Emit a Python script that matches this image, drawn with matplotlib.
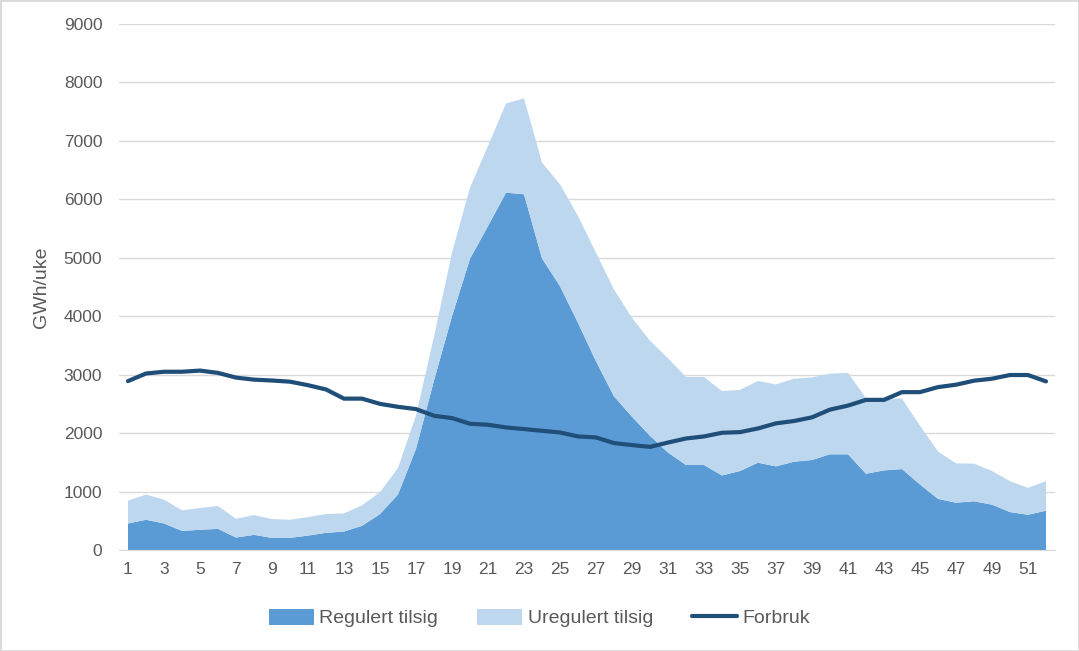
import matplotlib.pyplot as plt
import numpy as np

weeks = list(range(1, 53))

# top of the dark area (regulert tilsig), GWh/uke
regulert = [454, 517, 454, 328, 345, 362, 213, 259, 207, 207,
            247, 293, 316, 414, 615, 950, 1730, 2900, 4000, 4983,
            5543, 6114, 6086, 4989, 4514, 3886, 3229, 2629, 2280, 1954,
            1667, 1454, 1454, 1276, 1351, 1494, 1431, 1511, 1540, 1638,
            1638, 1305, 1362, 1385, 1121, 874, 810, 833, 776, 649,
            603, 672]

# total (regulert + uregulert)
total = [845, 948, 862, 678, 718, 753, 534, 598, 529, 517,
         563, 615, 626, 764, 989, 1405, 2300, 3650, 5086, 6200,
         6914, 7640, 7726, 6630, 6257, 5714, 5086, 4457, 3971, 3580,
         3280, 2960, 2960, 2718, 2741, 2891, 2833, 2931, 2954, 3017,
         3029, 2598, 2598, 2590, 2126, 1684, 1483, 1477, 1351, 1178,
         1063, 1178]
uregulert = [t - r for t, r in zip(total, regulert)]

forbruk = [2890, 3020, 3050, 3050, 3070, 3030, 2950, 2915, 2900, 2880,
           2820, 2747, 2590, 2590, 2500, 2450, 2411, 2297, 2257, 2160,
           2143, 2097, 2069, 2040, 2011, 1943, 1926, 1829, 1795, 1764,
           1839, 1908, 1943, 2006, 2017, 2080, 2167, 2207, 2270, 2402,
           2471, 2569, 2569, 2701, 2701, 2787, 2828, 2897, 2931, 2994,
           2994, 2885]

xticks = list(range(1, 53, 2))
yticks = list(range(0, 10000, 1000))

col_reg = '#5B9BD5'
col_ureg = '#BDD7EE'
col_line = '#1F4E79'
txt = '#595959'

plt.rcParams['font.family'] = ['Liberation Sans', 'DejaVu Sans']

fig = plt.figure(figsize=(10.79, 6.51), dpi=100)
ax = fig.add_axes([119 / 1079, 101 / 651, (1055 - 119) / 1079, (550 - 24) / 651])

ax.stackplot(weeks, regulert, uregulert, colors=[col_reg, col_ureg],
             labels=['Regulert tilsig', 'Uregulert tilsig'], linewidth=0)
ax.plot(weeks, forbruk, color=col_line, linewidth=3, label='Forbruk',
        solid_capstyle='round')

ax.set_xlim(0.5, 52.5)
ax.set_ylim(0, 9000)
ax.set_xticks(xticks)
ax.set_yticks(yticks)
ax.tick_params(axis='both', length=0, labelsize=12.5, colors=txt)
ax.tick_params(axis='x', pad=9)
ax.tick_params(axis='y', pad=12)
ax.grid(axis='y', color='#D9D9D9', linewidth=1)
ax.set_axisbelow(True)
for s in ['top', 'right', 'left']:
    ax.spines[s].set_visible(False)
ax.spines['bottom'].set_color('#D9D9D9')
ax.set_ylabel('GWh/uke', fontsize=14, color=txt, labelpad=10)

handles, labels = ax.get_legend_handles_labels()
fig.legend(handles, labels, loc='center', bbox_to_anchor=(0.5, (651 - 618) / 651),
           ncol=3, frameon=False, fontsize=14, labelcolor=txt,
           handlelength=2.3, handleheight=0.9, columnspacing=2.0, handletextpad=0.3)

fig.patches.append(plt.Rectangle((0, 0), 1, 1, transform=fig.transFigure,
                                 fill=False, edgecolor='#D9D9D9', linewidth=2))

fig.savefig('out.png', dpi=100)
